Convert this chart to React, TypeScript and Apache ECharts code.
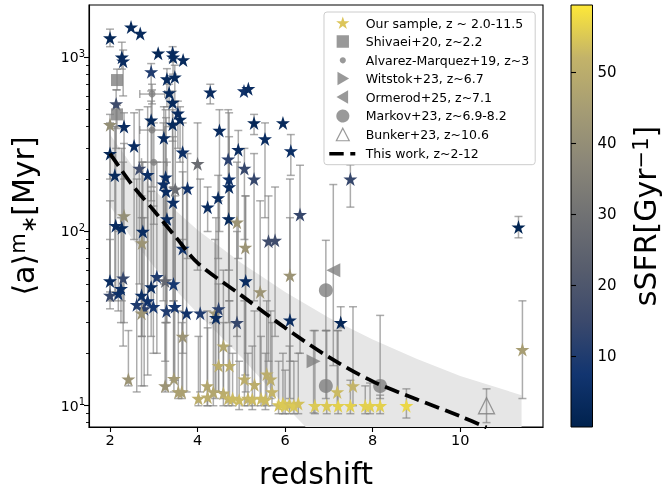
import React, { useEffect, useRef } from 'react';
import * as echarts from 'echarts';

// ---------- data ----------
// Our sample (stars): redshift, <a>*^m [Myr], sSFR [Gyr^-1], lower / upper error bound [Myr]
const starZ = [2.00, 2.48, 2.69, 2.27, 2.30, 3.10, 3.43, 3.44, 3.67, 2.94, 3.30, 3.48, 4.29, 5.06, 5.16, 2.14, 3.35, 3.43, 2.32, 2.94,
  3.55, 3.60, 3.43, 4.50, 5.29, 5.95, 5.54, 2.55, 3.23, 3.66, 4.93, 6.13, 2.00, 4.00, 5.07, 2.67, 2.11, 2.86, 3.27, 3.22,
  5.29, 4.70, 4.72, 4.72, 3.28, 3.49, 3.77, 3.44, 4.47, 4.23, 6.34, 2.32, 2.13, 2.27, 2.75, 3.30, 4.71, 4.90, 5.62, 5.77,
  2.73, 5.09, 3.66, 7.49, 11.33, 7.27, 2.00,
  2.00, 2.00, 2.19, 2.25, 2.30, 2.61, 2.72, 2.86, 2.78, 2.99, 2.94, 3.07, 3.26, 3.45, 3.29, 3.48, 3.75, 4.06, 2.72, 3.66,
  4.40, 4.48, 4.42, 4.90, 5.10, 6.11, 6.11, 5.43, 4.59, 4.48, 4.73, 2.42, 3.26, 3.46, 3.56, 3.64, 4.02, 4.23, 4.22, 4.36,
  4.59, 4.70, 5.07, 5.30, 5.58, 5.67, 5.70, 4.80, 4.95, 5.15, 5.25, 5.45, 5.55, 5.85, 5.95, 6.00, 6.10, 6.20, 6.30, 6.68,
  6.95, 7.21, 7.49, 7.83, 7.94, 8.17, 8.77, 7.19, 7.55, 11.42];
const starAge = [1290, 1490, 1370, 1000, 950, 1055, 1060, 1000, 965, 825, 750, 770, 630, 640, 660, 540, 625, 550, 400, 435,
  477, 440, 412, 380, 420, 420, 340, 310, 345, 285, 295, 290, 280, 245, 230, 230, 210, 212, 205, 187,
  200, 260, 200, 180, 170, 175, 177, 147, 156, 138, 125, 123, 108, 105, 100, 118, 118, 113, 88, 89,
  86, 81, 80, 200, 106, 30, 410,
  52, 43, 44, 47, 54, 38, 43, 40, 36, 37, 48, 55, 52, 50, 35, 37, 34, 34, 34, 25,
  34, 36, 32, 30, 52, 31, 56, 45, 22, 17, 17, 14.2, 13, 14.3, 12, 12, 11, 11.2, 13, 12,
  11.8, 11, 14.2, 13.2, 15.2, 14.2, 12, 11, 10.8, 11, 10.9, 11, 10.8, 10.1, 10.3, 10, 10.2, 10, 10.3, 10,
  10, 10, 10, 10, 10, 10, 10, 12, 13, 21];
const starSSFR = [2, 3, 3, 3, 4, 2, 4, 3, 3, 10, 3, 3, 4, 6, 4, 16, 3, 3, 4, 3,
  4, 3, 3, 4, 2, 3, 4, 4, 4, 5, 4, 5, 2, 28, 14, 16, 3, 5, 5, 5,
  14, 12, 6, 4, 4, 28, 6, 5, 4, 4, 14, 40, 4, 3, 4, 4, 3, 42, 16, 16,
  42, 42, 6, 14, 1, 2, 40,
  4, 14, 6, 5, 14, 10, 5, 6, 12, 8, 4, 10, 26, 8, 10, 8, 6, 10, 42, 42,
  42, 12, 4, 14, 4, 4, 42, 42, 48, 50, 50, 42, 42, 44, 46, 46, 50, 50, 48, 48,
  50, 52, 50, 50, 50, 50, 52, 53, 53, 52, 53, 53, 53, 54, 55, 55, 54, 55, 54, 55,
  55, 56, 56, 56, 56, 56, 57, 53, 52, 45];
const starLo = [1150, 1490, 1370, 855, 600, 1055, 940, 800, 965, 640, 520, 560, 540, 640, 660, 300, 400, 330, 200, 150,
  300, 250, 180, 100, 360, 420, 120, 90, 50, 80, 70, 210, 45, 60, 90, 50, 40, 40, 50, 40,
  40, 120, 60, 40, 30, 35, 70, 40, 70, 100, 20, 30, 45, 40, 35, 30, 30, 25, 18, 25,
  25, 15, 20, 138, 92, 28, 200,
  40, 36, 35, 30, 22, 12, 25, 15, 13, 20, 25, 20, 18, 14, 13, 14, 12, 12, 13, 12,
  11, 12, 12, 11, 12, 11, 18, 11, 11, 12, 11, 13, 12, 12, 11, 11, 10, 10, 10, 10,
  10, 10, 10, 10, 10, 11, 10, 10, 9.5, 10, 9.5, 10, 9.5, 9, 9, 9, 9, 9, 9, 9,
  9, 9, 9, 9, 9, 9, 8.5, 10, 10, 11];
const starHi = [1450, 1490, 1370, 1220, 1100, 1055, 1150, 1080, 965, 920, 860, 900, 700, 640, 660, 650, 700, 640, 480, 560,
  560, 520, 500, 500, 470, 420, 420, 480, 520, 420, 380, 360, 420, 420, 300, 500, 400, 520, 500, 420,
  280, 500, 480, 350, 450, 420, 280, 350, 210, 180, 240, 320, 400, 300, 250, 250, 200, 250, 160, 180,
  250, 160, 220, 241, 122, 37, 470,
  150, 90, 100, 120, 250, 200, 160, 200, 120, 140, 170, 250, 200, 180, 110, 160, 180, 200, 120, 90,
  90, 150, 120, 100, 160, 120, 200, 150, 60, 50, 40, 27, 30, 40, 35, 30, 25, 28, 35, 30,
  30, 22, 40, 35, 40, 35, 30, 20, 18, 20, 22, 25, 20, 18, 20, 16, 22, 18, 20, 27,
  27, 27, 14, 13, 13.5, 11.5, 12.5, 27, 37, 40];

// Literature points
const shivaeiZ = [2.16, 2.16];
const shivaeiAge = [740, 470];
const shivaeiLo = [650, 390];
const shivaeiHi = [855, 530];

const alvarezZ = [2.96, 2.96, 3.0];
const alvarezAge = [615, 382, 250];
const alvarezLo = [540, 180, 110];
const alvarezHi = [700, 650, 420];
const alvarezZLo = [2.68, 2.68, 2.72];
const alvarezZHi = [3.25, 3.25, 3.3];

const witstokZ = [6.65];
const witstokAge = [18];
const witstokLo = [9.1];
const witstokHi = [27];

const ormerodZ = [7.1];
const ormerodAge = [60];
const ormerodLo = [17];
const ormerodHi = [186];

const markovZ = [6.93, 6.93, 8.17];
const markovAge = [46, 13, 13];
const markovLo = [27, 11, 11];
const markovHi = [89, 27, 33];

const bunkerZ = [10.6];
const bunkerAge = [10];
const bunkerLo = [8];
const bunkerHi = [12.5];

// This work: relation and its band
const lineZ = [2, 2.5, 3, 3.5, 4, 5, 6, 7, 8, 9, 10, 10.6];
const lineAge = [280, 186, 132, 93, 66, 43, 28, 19, 13.8, 10.9, 8.7, 7.5];
const bandZ = [2, 2.5, 3, 3.5, 4, 5, 6, 7, 8, 9, 10, 11.4];
const bandHi = [360, 240, 174, 132, 102, 66, 45, 32, 24, 18.6, 14.8, 11.5];
const bandLo = [140, 91, 63, 46, 34, 19, 10, 5.5, 3, 2, 1.5, 1.2];

// Axes
const xTicks = [2, 4, 6, 8, 10];
const yMajor = [10, 100, 1000];
const yMinor = [8, 9, 20, 30, 40, 50, 60, 70, 80, 90, 200, 300, 400, 500, 600, 700, 800, 900];
const cbTicks = [10, 20, 30, 40, 50];

const CIVIDIS = ['#00224e', '#123570', '#3b496c', '#575d6d', '#707173', '#8a8678', '#a59c74', '#c3b369', '#fee838'];
const FONT = 'DejaVu Sans';
const GREY = '#808080';
const ERR = 'rgba(128,128,128,0.65)';

const STAR = 'path://M50,0L61.2,34.5L97.6,34.5L68.2,55.9L79.4,90.5L50,69.1L20.6,90.5L31.8,55.9L2.4,34.5L38.8,34.5Z';
const FRAME = 'M0,0Z M100,100Z ';
const L_STAR = 'path://' + FRAME + 'M50,4L61.2,37.5L97.6,37.5L68.2,58.9L79.4,93.5L50,72.1L20.6,93.5L31.8,58.9L2.4,37.5L38.8,37.5Z';
const L_SQUARE = 'path://' + FRAME + 'M6,6H94V94H6Z';
const L_DOT = 'path://' + FRAME + 'M72,50A22,22 0 1 1 71.99,49.9Z';
const L_TRI_R = 'path://' + FRAME + 'M12,2L95,50L12,98Z';
const L_TRI_L = 'path://' + FRAME + 'M88,2L5,50L88,98Z';
const L_CIRCLE = 'path://' + FRAME + 'M98,50A48,48 0 1 1 97.99,49.9Z';
const L_TRI_O = 'path://' + FRAME + 'M50,4L96,94L4,94Z';
const L_DASH = 'path://M0,0Z M27,14Z M0,5.3H14.4V8.7H0Z M21,5.3H26V8.7H21Z';

function vErrSeries(name: string, data: number[][]) {
  return {
    type: 'custom', name, xAxisIndex: 0, yAxisIndex: 0, silent: true, clip: true,
    data,
    encode: { x: 0, y: [1, 2, 3] },
    renderItem: (params: any, api: any) => {
      const x = api.value(0);
      const top = api.coord([x, api.value(3)]);
      const bot = api.coord([x, api.value(2)]);
      const cap = 4;
      const st = { stroke: ERR, lineWidth: 1.5 };
      return {
        type: 'group',
        children: [
          { type: 'line', shape: { x1: top[0], y1: top[1], x2: bot[0], y2: bot[1] }, style: st },
          { type: 'line', shape: { x1: top[0] - cap, y1: top[1], x2: top[0] + cap, y2: top[1] }, style: st },
          { type: 'line', shape: { x1: bot[0] - cap, y1: bot[1], x2: bot[0] + cap, y2: bot[1] }, style: st },
        ],
      };
    },
  };
}

function hErrSeries(name: string, data: number[][]) {
  return {
    type: 'custom', name, xAxisIndex: 0, yAxisIndex: 0, silent: true, clip: true,
    data,
    encode: { x: [0, 2, 3], y: 1 },
    renderItem: (params: any, api: any) => {
      const y = api.value(1);
      const l = api.coord([api.value(2), y]);
      const r = api.coord([api.value(3), y]);
      const cap = 4;
      const st = { stroke: ERR, lineWidth: 1.5 };
      return {
        type: 'group',
        children: [
          { type: 'line', shape: { x1: l[0], y1: l[1], x2: r[0], y2: r[1] }, style: st },
          { type: 'line', shape: { x1: l[0], y1: l[1] - cap, x2: l[0], y2: l[1] + cap }, style: st },
          { type: 'line', shape: { x1: r[0], y1: r[1] - cap, x2: r[0], y2: r[1] + cap }, style: st },
        ],
      };
    },
  };
}

const zip = (...arrs: number[][]) => arrs[0].map((_, i) => arrs.map((a) => a[i]));

export default function App() {
  const ref = useRef<HTMLDivElement>(null);
  useEffect(() => {
    if (!ref.current) return;
    const chart = echarts.init(ref.current, undefined, { renderer: 'svg' });

    const otherErr = [
      ...zip(shivaeiZ, shivaeiAge, shivaeiLo, shivaeiHi),
      ...zip(alvarezZ, alvarezAge, alvarezLo, alvarezHi),
      ...zip(witstokZ, witstokAge, witstokLo, witstokHi),
      ...zip(ormerodZ, ormerodAge, ormerodLo, ormerodHi),
      ...zip(markovZ, markovAge, markovLo, markovHi),
      ...zip(bunkerZ, bunkerAge, bunkerLo, bunkerHi),
    ];

    const bandData = zip(bandZ, bandLo, bandHi);

    const option: any = {
      animation: false,
      textStyle: { fontFamily: FONT },
      grid: [
        { left: 89, top: 5, width: 454, height: 422, show: true, borderColor: '#000', borderWidth: 1.1, backgroundColor: 'transparent', outerBoundsMode: 'none', containLabel: false },
        { left: 571, top: 5, width: 21.5, height: 422, show: false, outerBoundsMode: 'none', containLabel: false },
      ],
      xAxis: [
        {
          type: 'value', gridIndex: 0, min: 1.52, max: 11.89,
          axisLine: { show: true, onZero: false, lineStyle: { color: '#000', width: 1.1 } },
          axisTick: { show: true, customValues: xTicks, length: 5, lineStyle: { color: '#000', width: 1.1 } },
          axisLabel: { customValues: xTicks, fontSize: 14.5, color: '#000', margin: 5, fontFamily: FONT },
          splitLine: { show: false },
          name: 'redshift', nameLocation: 'middle', nameGap: 31,
          nameTextStyle: { fontSize: 30, lineHeight: 30, color: '#000', fontFamily: FONT },
        },
        { type: 'value', gridIndex: 1, min: 0, max: 1, show: false },
      ],
      yAxis: [
        {
          type: 'log', logBase: 10, gridIndex: 0, min: 7.55, max: 1995, position: 'left',
          axisLine: { show: true, onZero: false, lineStyle: { color: '#000', width: 1.1 } },
          axisTick: { show: true, customValues: yMajor, length: 5, lineStyle: { color: '#000', width: 1.1 } },
          axisLabel: {
            customValues: yMajor, color: '#000', margin: 4, fontFamily: FONT,
            formatter: (v: number) => `{b|10}{s|${Math.round(Math.log10(v))}}`,
            rich: {
              b: { fontSize: 14, lineHeight: 18, color: '#000', fontFamily: FONT },
              s: { fontSize: 10, lineHeight: 10, verticalAlign: 'top', color: '#000', fontFamily: FONT },
            },
          },
          splitLine: { show: false },
          name: '⟨a⟩{s|m}{u|∗}[Myr]', nameLocation: 'middle', nameRotate: 90, nameGap: 50,
          nameTextStyle: {
            fontSize: 30, lineHeight: 32, color: '#000', fontFamily: FONT,
            rich: {
              s: { fontSize: 21, lineHeight: 21, verticalAlign: 'top', color: '#000', fontFamily: FONT },
              u: { fontSize: 21, lineHeight: 21, verticalAlign: 'bottom', color: '#000', fontFamily: FONT },
            },
          },
        },
        {
          type: 'log', logBase: 10, gridIndex: 0, min: 7.55, max: 1995, position: 'left', offset: 0,
          axisLine: { show: false, onZero: false },
          axisTick: { show: true, customValues: yMinor, length: 3, lineStyle: { color: '#000', width: 0.9 } },
          axisLabel: { show: false },
          splitLine: { show: false },
        },
        {
          type: 'value', gridIndex: 1, position: 'right', min: 0, max: 59.4,
          axisLine: { show: false },
          axisTick: { show: true, customValues: cbTicks, length: 5, lineStyle: { color: '#000', width: 1.1 } },
          axisLabel: { customValues: cbTicks, fontSize: 15, color: '#000', margin: 5, fontFamily: FONT },
          splitLine: { show: false },
          name: 'sSFR[Gyr{s|−1}]', nameLocation: 'middle', nameRotate: 90, nameGap: 38,
          nameTextStyle: {
            fontSize: 30, lineHeight: 30, color: '#000', fontFamily: FONT,
            rich: { s: { fontSize: 21, lineHeight: 21, verticalAlign: 'top', color: '#000', fontFamily: FONT } },
          },
        },
      ],
      visualMap: [
        { type: 'continuous', show: false, min: 0, max: 59.4, dimension: 2, seriesIndex: 4, inRange: { color: CIVIDIS } },
      ],
      graphic: [
        {
          type: 'rect', silent: true,
          shape: { x: 571, y: 5, width: 21.5, height: 422 },
          style: {
            fill: new echarts.graphic.LinearGradient(0, 1, 0, 0, CIVIDIS.map((c, i) => ({ offset: i / (CIVIDIS.length - 1), color: c }))),
            stroke: '#000', lineWidth: 1,
          },
        },
      ],
      legend: {
        orient: 'vertical', left: 324, top: 12,
        padding: [4, 6, 4, 5.3],
        itemWidth: 27, itemHeight: 14, itemGap: 4.5,
        symbolKeepAspect: true,
        borderColor: '#cccccc', borderWidth: 1, borderRadius: 3,
        backgroundColor: 'rgba(255,255,255,0.8)',
        textStyle: { fontSize: 12.5, color: '#000', fontFamily: FONT, lineHeight: 14, padding: [0, 0, 0, 4.4] },
        selectedMode: false,
        data: [
          { name: 'Our sample, z ~ 2.0-11.5', icon: L_STAR, itemStyle: { color: '#dcc55a' } },
          { name: 'Shivaei+20, z~2.2', icon: L_SQUARE, itemStyle: { color: GREY } },
          { name: 'Alvarez-Marquez+19, z~3', icon: L_DOT, itemStyle: { color: GREY } },
          { name: 'Witstok+23, z~6.7', icon: L_TRI_R, itemStyle: { color: GREY } },
          { name: 'Ormerod+25, z~7.1', icon: L_TRI_L, itemStyle: { color: GREY } },
          { name: 'Markov+23, z~6.9-8.2', icon: L_CIRCLE, itemStyle: { color: GREY } },
          { name: 'Bunker+23, z~10.6', icon: L_TRI_O, itemStyle: { color: 'rgba(0,0,0,0)', borderColor: GREY, borderWidth: 1.2 } },
          { name: 'This work, z~2-12', icon: L_DASH, itemStyle: { color: '#000', borderWidth: 0 } },
        ],
      },
      series: [
        {
          type: 'custom', name: 'band', silent: true, clip: true, z: 1,
          data: bandData,
          encode: { x: 0, y: [1, 2] },
          renderItem: (params: any, api: any) => {
            if (params.dataIndex !== 0) return null;
            const up = bandData.map((d) => api.coord([d[0], d[2]]));
            const dn = bandData.map((d) => api.coord([d[0], d[1]])).reverse();
            return { type: 'polygon', shape: { points: up.concat(dn) }, style: { fill: '#e6e6e6' } };
          },
        },
        vErrSeries('starErr', zip(starZ, starAge, starLo, starHi)),
        vErrSeries('litErr', otherErr),
        hErrSeries('alvarezXErr', zip(alvarezZ, alvarezAge, alvarezZLo, alvarezZHi)),
        {
          type: 'scatter', name: 'Our sample, z ~ 2.0-11.5', symbol: STAR, symbolSize: 14,
          data: zip(starZ, starAge, starSSFR),
          itemStyle: { opacity: 1 },
        },
        { type: 'scatter', name: 'Shivaei+20, z~2.2', symbol: 'rect', symbolSize: 12, data: zip(shivaeiZ, shivaeiAge), itemStyle: { color: GREY } },
        { type: 'scatter', name: 'Alvarez-Marquez+19, z~3', symbol: 'circle', symbolSize: 7, data: zip(alvarezZ, alvarezAge), itemStyle: { color: GREY } },
        { type: 'scatter', name: 'Witstok+23, z~6.7', symbol: 'triangle', symbolRotate: -90, symbolSize: 14, data: zip(witstokZ, witstokAge), itemStyle: { color: GREY } },
        { type: 'scatter', name: 'Ormerod+25, z~7.1', symbol: 'triangle', symbolRotate: 90, symbolSize: 14, data: zip(ormerodZ, ormerodAge), itemStyle: { color: GREY } },
        { type: 'scatter', name: 'Markov+23, z~6.9-8.2', symbol: 'circle', symbolSize: 14, data: zip(markovZ, markovAge), itemStyle: { color: GREY } },
        {
          type: 'scatter', name: 'Bunker+23, z~10.6', symbol: 'triangle', symbolSize: 16, data: zip(bunkerZ, bunkerAge),
          itemStyle: { color: 'rgba(0,0,0,0)', borderColor: GREY, borderWidth: 1.3 },
        },
        {
          type: 'line', name: 'This work, z~2-12', data: zip(lineZ, lineAge), smooth: 0.3,
          symbol: 'none', showSymbol: false, clip: true, z: 5,
          lineStyle: { color: '#000', width: 3.8, type: [15, 6.5] },
          itemStyle: { color: '#000' },
        },
      ],
    };
    chart.setOption(option);
    return () => chart.dispose();
  }, []);
  return <div ref={ref} style={{ position: 'fixed', left: 0, top: 0, width: 663, height: 490 }} />;
}
